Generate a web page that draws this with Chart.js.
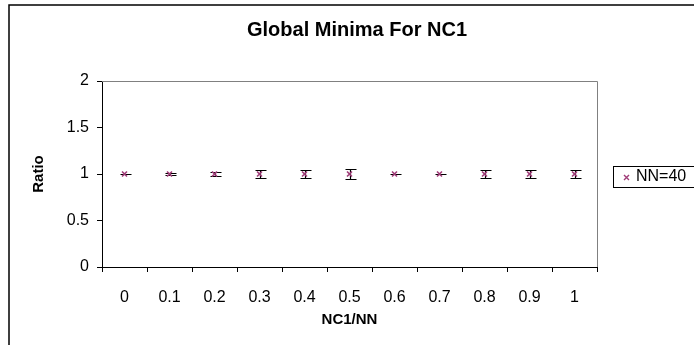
<!DOCTYPE html>
<html><head><meta charset="utf-8">
<script src="https://cdn.jsdelivr.net/npm/chart.js@4.4.0/dist/chart.umd.min.js"></script>
<style>html,body{margin:0;padding:0;background:#fff;}#wrap{width:694px;height:345px;position:relative;overflow:hidden;}</style>
</head><body><div id="wrap"><canvas id="c" width="694" height="345"></canvas></div>
<script>
const categories = ['0','0.1','0.2','0.3','0.4','0.5','0.6','0.7','0.8','0.9','1'];
const ratioValues = [1,1,1,1,1,1,1,1,1,1,1];
const errorValues = [0,0.01,0.025,0.04,0.04,0.05,0,0,0.045,0.045,0.045];
const yTickValues = [0,0.5,1,1.5,2];
const chartTitle = 'Global Minima For NC1';
const xAxisTitle = 'NC1/NN';
const yAxisTitle = 'Ratio';
const seriesName = 'NN=40';

const FONT = '"Liberation Sans", Arial, sans-serif';
const MARK = '#A03C78';
Chart.defaults.font.family = FONT;
Chart.defaults.color = '#000';

const decor = {
  id: 'decor',
  beforeDraw(chart) {
    const ctx = chart.ctx;
    ctx.save();
    ctx.fillStyle = '#fff';
    ctx.fillRect(0, 0, chart.width, chart.height);
    ctx.restore();
  },
  beforeDatasetsDraw(chart) {
    const ctx = chart.ctx, xs = chart.scales.x, ys = chart.scales.y, a = chart.chartArea;
    ctx.save();
    ctx.strokeStyle = '#808080'; ctx.lineWidth = 1;
    ctx.beginPath();
    ctx.moveTo(a.left, Math.round(a.top) + 0.5);
    ctx.lineTo(Math.round(a.right) + 0.5, Math.round(a.top) + 0.5);
    ctx.lineTo(Math.round(a.right) + 0.5, a.bottom);
    ctx.stroke();
    ctx.strokeStyle = '#000'; ctx.lineWidth = 1.2;
    ratioValues.forEach((v, i) => {
      const e = errorValues[i];
      const x = Math.round(xs.getPixelForValue(i)) + 0.5;
      const yh = Math.round(ys.getPixelForValue(v + e)) + 0.5;
      const yl = Math.round(ys.getPixelForValue(v - e)) + 0.5;
      ctx.beginPath();
      ctx.moveTo(x, yh); ctx.lineTo(x, yl);
      ctx.moveTo(x - 5, yh); ctx.lineTo(x + 6, yh);
      ctx.moveTo(x - 5, yl); ctx.lineTo(x + 6, yl);
      ctx.stroke();
    });
    ctx.restore();
  },
  afterDraw(chart) {
    const ctx = chart.ctx;
    ctx.save();
    ctx.strokeStyle = '#000'; ctx.lineWidth = 1.5;
    ctx.strokeRect(9, 5, 760, 400);
    ctx.fillStyle = '#000';
    ctx.font = 'bold 20px ' + FONT;
    ctx.textAlign = 'center'; ctx.textBaseline = 'middle';
    ctx.fillText(chartTitle, 357, 30);
    ctx.lineWidth = 1; ctx.strokeStyle = '#000';
    ctx.strokeRect(613.5, 166.5, 120, 21);
    ctx.strokeStyle = MARK; ctx.lineWidth = 1.4;
    ctx.beginPath();
    ctx.moveTo(624, 175); ctx.lineTo(629, 180);
    ctx.moveTo(629, 175); ctx.lineTo(624, 180);
    ctx.stroke();
    ctx.font = '16px ' + FONT;
    ctx.textAlign = 'left';
    ctx.fillText(seriesName, 636, 177);
    ctx.restore();
  }
};

new Chart(document.getElementById('c'), {
  type: 'line',
  data: {
    labels: categories,
    datasets: [{
      label: seriesName,
      data: ratioValues,
      showLine: false,
      pointStyle: 'crossRot',
      pointRadius: 3.5,
      pointBorderWidth: 1.6,
      borderColor: MARK,
      backgroundColor: MARK
    }]
  },
  options: {
    responsive: false,
    animation: false,
    devicePixelRatio: 1,
    layout: { padding: { left: 10, right: 97, top: 81, bottom: 0 } },
    plugins: { legend: { display: false }, tooltip: { enabled: false }, title: { display: false } },
    scales: {
      x: {
        type: 'category',
        offset: true,
        grid: { offset: true, drawOnChartArea: false, drawTicks: true, tickLength: 5, color: '#000' },
        border: { color: '#000' },
        ticks: { color: '#000', font: { size: 16 }, padding: 16, maxRotation: 0, autoSkip: false },
        title: { display: true, text: xAxisTitle, color: '#000', font: { size: 15, weight: 'bold' }, padding: { top: 0, bottom: 16 } },
        afterFit: s => { s.height = 78; }
      },
      y: {
        min: 0, max: 2,
        afterBuildTicks: s => { s.ticks = yTickValues.map(v => ({ value: v })); },
        grid: { drawOnChartArea: false, drawTicks: true, tickLength: 5, color: '#000' },
        border: { color: '#000' },
        ticks: { color: '#000', font: { size: 16 }, padding: 8, callback: v => String(v) },
        title: { display: true, text: yAxisTitle, color: '#000', font: { size: 15, weight: 'bold' }, padding: { top: 20, bottom: 0 } },
        afterFit: s => { s.width = 92; }
      }
    }
  },
  plugins: [decor]
});
</script>
</body></html>
